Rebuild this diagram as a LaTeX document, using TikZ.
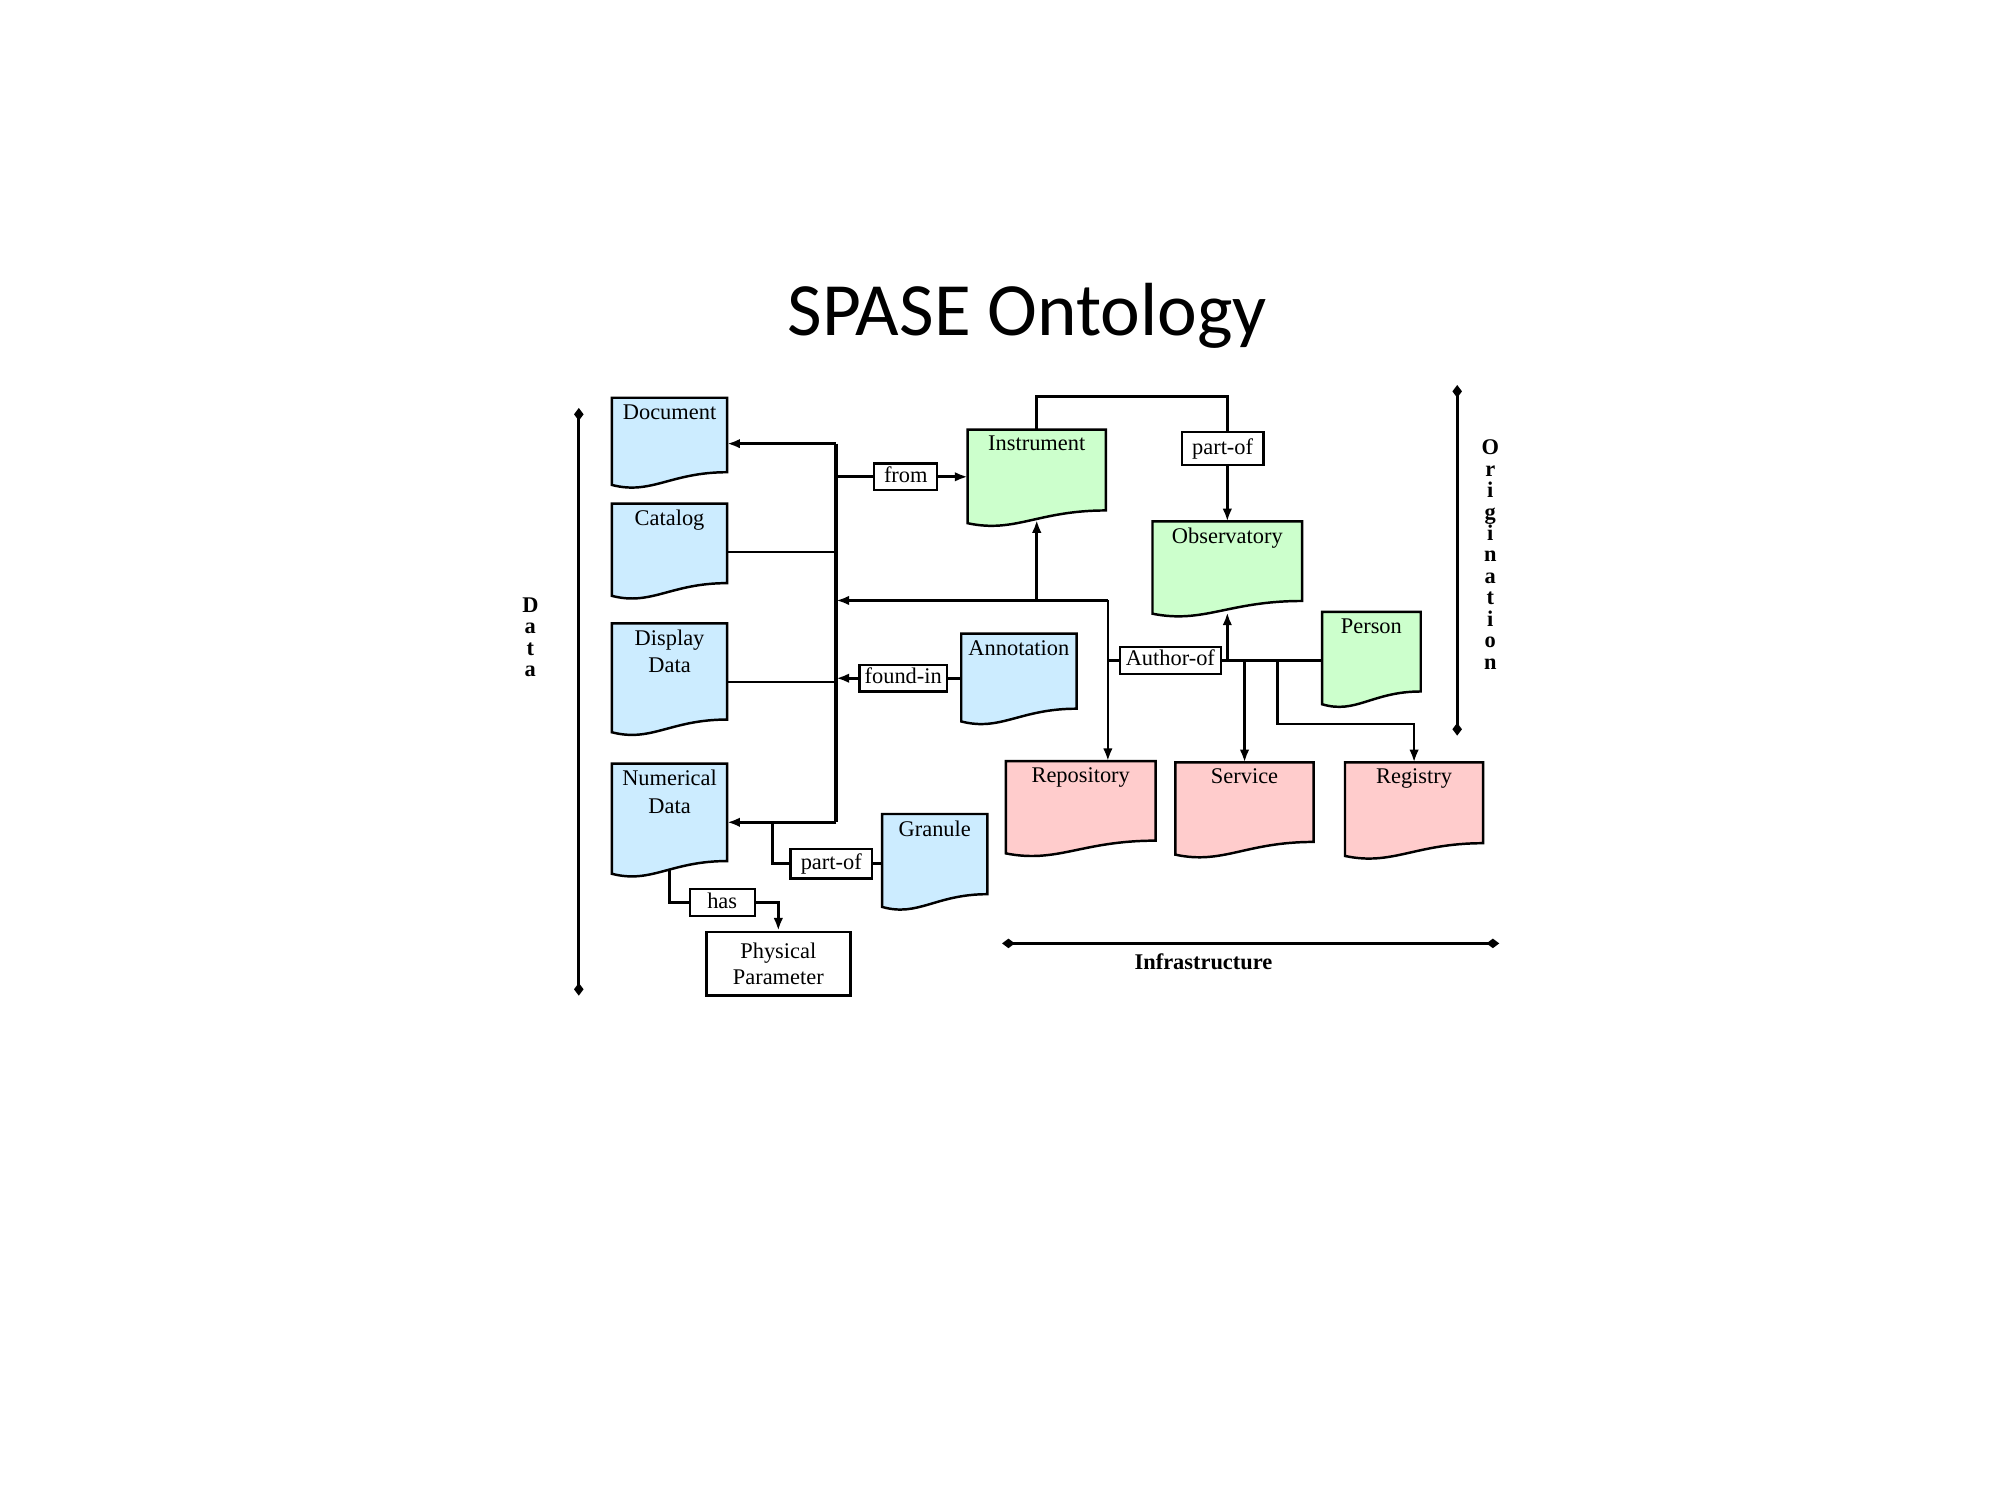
\documentclass[tikz,border=0pt]{standalone}
\usepackage{fontspec}
\setmainfont{Liberation Serif}
\newfontfamily\titlefont{Carlito}
\usetikzlibrary{positioning}
\usetikzlibrary{arrows.meta}
\usetikzlibrary{calc}

\definecolor{databox}{RGB}{204,236,255}
\definecolor{originbox}{RGB}{204,255,204}
\definecolor{infrabox}{RGB}{255,204,204}

\tikzset{
    docbox/.style={rectangle, draw=none, fill=none, inner sep=0pt, anchor=north west},
    docline/.style={line width=0.55pt},
    doctext/.style={inner sep=0.45mm, align=center, font=\fontsize{5}{6.1}\selectfont},
    relation/.style={draw, fill=white, line width=0.5pt, inner xsep=0.4mm, inner ysep=0.25mm,
        minimum height=2.1mm, text height=1.2mm, text depth=0.35mm, font=\fontsize{5}{6}\selectfont},
    link/.style={line width=0.6pt},
    arrow/.style={link, -{Latex[length=1mm,width=0.75mm]}},
    axis/.style={line width=0.75pt, {Diamond[length=1mm,width=0.75mm]}-{Diamond[length=1mm,width=0.75mm]}},
    axislabel/.style={align=center, inner sep=0pt, font=\bfseries\fontsize{5}{4.78}\selectfont},
}

% name, colour, left, top, width, height, text
\newcommand{\docnode}[7]{%
    \node[docbox, minimum width=#5mm, minimum height=#6mm] (#1) at (#3,#4) {};
    \filldraw[docline, fill=#2] (#1.north west) -- (#1.north east) -- (#1.south east)
        .. controls +(-0.5*#5,0) and +(0.35*#5,0.8) .. ($(#1.south west)+(0,1)$) -- cycle;
    \node[doctext, anchor=north] (#1 text) at (#1.north) {#7};
}

\begin{document}
\begin{tikzpicture}[x=1mm, y=-1mm]
        \useasboundingbox (0,0) rectangle (156.8,117.6);

        \node[font=\titlefont\fontsize{16.8}{20}\selectfont, anchor=base] (title) at (80.6,26.3) {SPASE Ontology};

        \docnode{Document}{databox}{48.0}{31.2}{8.9}{5.7}{Document}
        \docnode{Catalog}{databox}{48.0}{39.5}{8.9}{6.1}{Catalog}
        \docnode{DisplayData}{databox}{48.0}{48.9}{8.9}{7.4}{Display\\Data}
        \docnode{NumericalData}{databox}{48.0}{59.9}{8.9}{7.5}{Numerical\\Data}
        \docnode{Granule}{databox}{69.2}{63.85}{8.1}{6.15}{Granule}
        \docnode{Annotation}{databox}{75.4}{49.7}{8.9}{5.75}{Annotation}

        \docnode{Instrument}{originbox}{75.9}{33.7}{10.7}{6.2}{Instrument}
        \docnode{Observatory}{originbox}{90.4}{40.9}{11.6}{6.1}{Observatory}
        \docnode{Person}{originbox}{103.7}{48.0}{7.6}{6.1}{Person}

        \docnode{Repository}{infrabox}{78.9}{59.7}{11.6}{6.1}{Repository}
        \docnode{Service}{infrabox}{92.2}{59.8}{10.7}{6.1}{Service}
        \docnode{Registry}{infrabox}{105.5}{59.8}{10.7}{6.2}{Registry}

        \node[draw, line width=0.55pt, minimum width=11.3mm, minimum height=5mm, inner sep=0pt,
            align=center, font=\fontsize{5}{6}\selectfont] (PhysicalParameter) at (61.05,75.6) {Physical\\Parameter};

        \node[relation, minimum width=4.95mm] (fromrel) at (71.05,37.4) {from};
        \node[relation, minimum width=6.7mm] (foundin) at (70.85,53.2) {found-in};
        \node[relation, minimum width=7.95mm] (authorof) at (91.8,51.8) {Author-of};
        \node[relation, minimum width=6.4mm, minimum height=2.6mm] (partofobs) at (95.9,35.2) {part-of};
        \node[relation, minimum width=6.4mm, minimum height=2.3mm] (partofnum) at (65.2,67.75) {part-of};
        \node[relation, minimum width=5.1mm] (hasrel) at (56.65,70.8) {has};

        \coordinate (bus top) at (65.6,34.8);
        \coordinate (bus bottom) at (65.6,64.5);
        \coordinate (granule join) at (60.6,64.5);
        \coordinate (author bus) at (86.9,47.1);
        \coordinate (registry split) at (100.2,51.8);

        \draw[link, line width=0.85pt] (bus top) -- (bus bottom);
        \draw[arrow] (bus top) -- (bus top -| Document.east);
        \draw[arrow] (bus bottom) -- (bus bottom -| NumericalData.east);
        \draw[link] (Catalog.east |- 0,43.3) -- (bus top |- 0,43.3);
        \draw[link] (DisplayData.east |- 0,53.5) -- (bus top |- 0,53.5);

        \draw[link] (bus top |- fromrel.west) -- (fromrel.west);
        \draw[arrow] (fromrel.east) -- (fromrel.east -| Instrument.west);
        \draw[link] (Annotation.west |- foundin.east) -- (foundin.east);
        \draw[arrow] (foundin.west) -- (foundin.west -| bus top);

        \draw[arrow] (author bus) -- (author bus -| bus top);
        \draw[arrow] (Instrument.south |- author bus) -- ($(Instrument.south)+(0,0.75)$);
        \draw[arrow] (author bus) -- (author bus |- Repository.north);
        \draw[link] (authorof.west) -- (authorof.west -| author bus);
        \draw[link] (authorof.east) -- (authorof.east -| Person.west);
        \draw[arrow] (Observatory.south |- authorof.east) -- ($(Observatory.south)+(0,0.9)$);
        \draw[arrow] (Service.north |- authorof.east) -- (Service.north);
        \draw[arrow] (registry split) -- (registry split |- 0,56.8) -| (Registry.north);

        \draw[link] (Instrument.north) -- (Instrument.north |- 0,31.1) -| (Observatory.north |- partofobs.north);
        \draw[arrow] (Observatory.north |- partofobs.south) -- (Observatory.north);

        \draw[link] (Granule.west |- partofnum.east) -- (partofnum.east);
        \draw[link] (partofnum.west) -| (granule join);
        \draw[link] ($(NumericalData.south)+(0,0.65)$) |- (hasrel.west);
        \draw[arrow] (hasrel.east) -| (PhysicalParameter.north);

        \coordinate (data top) at (45.4,32.0);
        \coordinate (data bottom) at (45.4,78.1);
        \draw[axis] (data top) -- (data bottom);
        \node[axislabel] (data label) at (41.6,50.0) {D\\a\\t\\a};

        \coordinate (origin top) at (114.3,30.2);
        \coordinate (origin bottom) at (114.3,57.7);
        \draw[axis] (origin top) -- (origin bottom);
        \node[axislabel] (origination label) at (116.9,43.5) {O\\r\\i\\g\\i\\n\\a\\t\\i\\o\\n};

        \coordinate (infra left) at (78.6,74.0);
        \coordinate (infra right) at (117.6,74.0);
        \draw[axis] (infra left) -- (infra right);
        \node[font=\bfseries\fontsize{5}{6}\selectfont] (infra label) at (94.4,75.4) {Infrastructure};
\end{tikzpicture}
\end{document}
